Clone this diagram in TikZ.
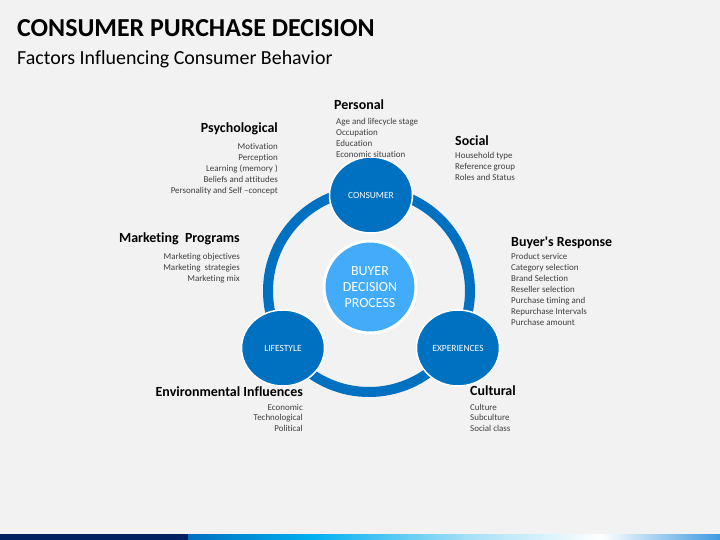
\documentclass[tikz,border=0pt]{standalone}
\usepackage{fontspec}
\setmainfont{Carlito}[Ligatures={NoCommon}]
\usetikzlibrary{shapes.geometric}
\definecolor{bg}{HTML}{F2F2F2}
\definecolor{dblue}{HTML}{0070C0}
\definecolor{lblue}{HTML}{42ACFA}
\definecolor{navy}{HTML}{002060}
\definecolor{cyanb}{HTML}{00B0F0}
\definecolor{paleb}{HTML}{A8E0F7}
\definecolor{endb}{HTML}{3D9AE0}
\definecolor{txt}{HTML}{404040}
\begin{document}
\begin{tikzpicture}[x=1bp,y=-1bp,
 head/.style={font=\fontsize{14}{16}\selectfont\bfseries, text=black, inner sep=0},
 itemtxt/.style={font=\fontsize{9}{10}\selectfont, text=txt, inner sep=0},
 smallc/.style={ellipse, fill=dblue, draw=white, line width=1.5bp, minimum width=83bp, minimum height=76bp, text=white, font=\fontsize{9.5}{11}\selectfont, inner sep=0},
]
\fill[bg] (0,0) rectangle (720,540);
\useasboundingbox (0,0) rectangle (720,540);

% title
\node[anchor=base west, inner sep=0, font=\fontsize{26}{30}\selectfont\bfseries] (title) at (17,37) {CONSUMER PURCHASE DECISION};
\node[anchor=base west, inner sep=0, font=\fontsize{20}{24}\selectfont] (subtitle) at (17,65) {Factors Influencing Consumer Behavior};

% ring and circles
\node[circle, draw=dblue, line width=10bp, minimum size=202bp, inner sep=0] (ring) at (369,291) {};
\node[circle, fill=lblue, draw=white, line width=3bp, minimum size=92bp, inner sep=0, text=white, align=center, font=\fontsize{14}{16}\selectfont] (bdp) at (370,287) {BUYER\\DECISION\\PROCESS};
\node[smallc] (consumer) at (371,195) {CONSUMER};
\node[smallc] (lifestyle) at (283,348) {LIFESTYLE};
\node[smallc] (experiences) at (458,348) {EXPERIENCES};

% Personal
\node[head, anchor=base west] (personal) at (334,110) {Personal};
\foreach \t [count=\i from 0] in {{Age and lifecycle stage},{Occupation},{Education},{Economic situation}}
  \node[itemtxt, anchor=base west] (pers\i) at (336,{124.5+10.9*\i}) {\t};

% Psychological
\node[head, anchor=base east] (psych) at (278,133) {Psychological};
\foreach \t [count=\i from 0] in {{Motivation},{Perception},{Learning (memory )},{Beliefs and attitudes},{Personality and Self –concept}}
  \node[itemtxt, anchor=base east] (psy\i) at (278,{150+10.9*\i}) {\t};

% Social
\node[head, anchor=base west] (social) at (455,146) {Social};
\foreach \t [count=\i from 0] in {{Household type},{Reference group},{Roles and Status}}
  \node[itemtxt, anchor=base west] (soc\i) at (455,{159+10.9*\i}) {\t};

% Buyer's Response
\node[head, anchor=base west] (buyer) at (511,247) {Buyer\textquotesingle s Response};
\foreach \t [count=\i from 0] in {{Product service},{Category selection},{Brand Selection},{Reseller selection},{Purchase timing and},{Repurchase Intervals},{Purchase amount}}
  \node[itemtxt, anchor=base west] (buy\i) at (511,{260+10.9*\i}) {\t};

% Marketing Programs
\node[head, anchor=base east] (mkt) at (240,243) {Marketing\ \ Programs};
\foreach \t [count=\i from 0] in {{Marketing objectives},{Marketing\ \ strategies},{Marketing mix}}
  \node[itemtxt, anchor=base east] (mk\i) at (240,{260+10.9*\i}) {\t};

% Environmental Influences
\node[head, anchor=base east] (env) at (303,396) {Environmental Influences};
\foreach \t [count=\i from 0] in {{Economic},{Technological},{Political}}
  \node[itemtxt, anchor=base east] (en\i) at (303,{410+10.9*\i}) {\t};

% Cultural
\node[head, anchor=base west] (cult) at (470,395) {Cultural};
\foreach \t [count=\i from 0] in {{Culture},{Subculture},{Social class}}
  \node[itemtxt, anchor=base west] (cu\i) at (470,{410+10.9*\i}) {\t};

% bottom bar
\fill[navy] (0,534) rectangle (188.5,540);
\shade[left color=dblue, right color=cyanb] (188,534) rectangle (312.5,540);
\shade[left color=cyanb, right color=paleb] (312,534) rectangle (470.5,540);
\shade[left color=paleb, right color=white] (470,534) rectangle (601.5,540);
\shade[left color=white, right color=endb] (601,534) rectangle (720,540);
\end{tikzpicture}
\end{document}
